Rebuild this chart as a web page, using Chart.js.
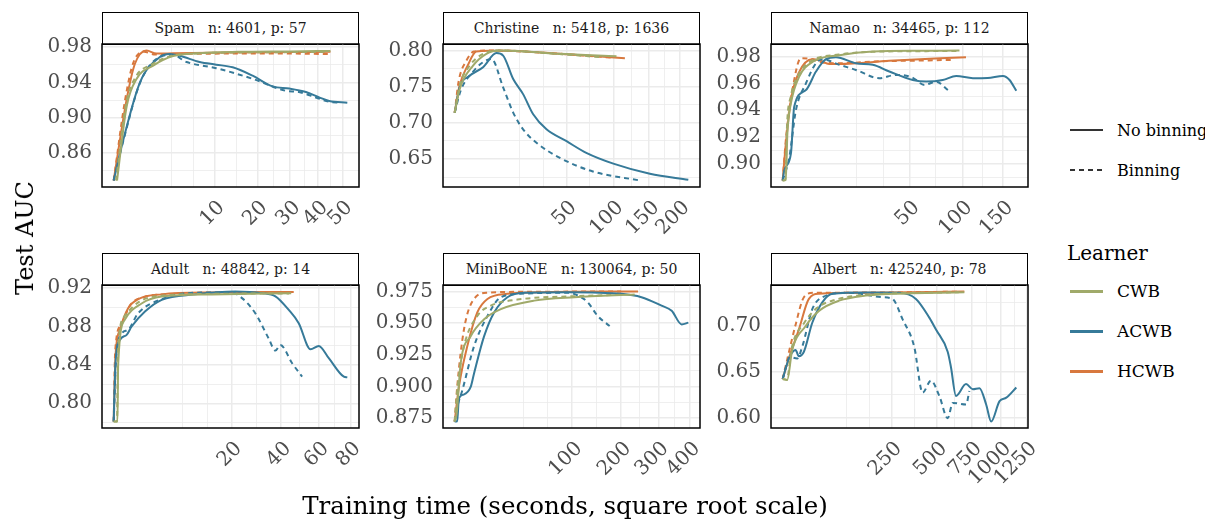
<!DOCTYPE html>
<html>
<head>
<meta charset="utf-8">
<script src="https://cdn.jsdelivr.net/npm/chart.js@4.4.0/dist/chart.umd.min.js"></script>
<style>
  body { margin: 0; background: #fff; font-family: "DejaVu Serif", serif; }
  #wrap { position: relative; width: 1205px; height: 519px; overflow: hidden; }
  .strip { position: absolute; box-sizing: border-box; border: 1.5px solid #000; background: #fff;
           font-size: 14px; color: #1a1a1a; text-align: center; white-space: pre; }
  canvas { position: absolute; }
  .txt { position: absolute; white-space: nowrap; color: #000; }
  .key { position: absolute; width: 33px; height: 2px; }
</style>
</head>
<body>
<div id="wrap"></div>
<script>
// facet info
const panelNames = ["Spam", "Christine", "Namao", "Adult", "MiniBooNE", "Albert"];
const panelN = [4601, 5418, 34465, 48842, 130064, 425240];
const panelP = [57, 1636, 112, 14, 50, 78];

// x breaks in seconds (square root scale), y breaks + labels
const xBreaks = [
  [10, 20, 30, 40, 50],
  [50, 100, 150, 200],
  [50, 100, 150],
  [20, 40, 60, 80],
  [100, 200, 300, 400],
  [250, 500, 750, 1000, 1250]
];
const yBreaks = [
  [0.86, 0.90, 0.94, 0.98],
  [0.65, 0.70, 0.75, 0.80],
  [0.90, 0.92, 0.94, 0.96, 0.98],
  [0.80, 0.84, 0.88, 0.92],
  [0.875, 0.900, 0.925, 0.950, 0.975],
  [0.60, 0.65, 0.70]
];
const yLabels = [
  ["0.86", "0.90", "0.94", "0.98"],
  ["0.65", "0.70", "0.75", "0.80"],
  ["0.90", "0.92", "0.94", "0.96", "0.98"],
  ["0.80", "0.84", "0.88", "0.92"],
  ["0.875", "0.900", "0.925", "0.950", "0.975"],
  ["0.60", "0.65", "0.70"]
];

const learners = ["CWB", "ACWB", "HCWB"];
const learnerColors = ["#A0AA6A", "#367A99", "#D8783E"];

// [seconds, test AUC]
const spamCWB = [[0.03,0.829],[0.22,0.913],[0.6,0.944],[1.64,0.959],[3.57,0.9697],[7.3,0.973],[15,0.9745],[30,0.975],[45,0.9755]];
const spamCWBbin = [[0.02,0.829],[0.2,0.915],[0.55,0.946],[1.5,0.96],[3.4,0.970],[7,0.9728],[15,0.9738],[30,0.9742],[44,0.9745]];
const spamACWB = [[0.005,0.829],[0.134,0.875],[0.77,0.94],[2.2,0.9686],[3.2,0.972],[4.4,0.970],[7.3,0.963],[10.3,0.960],[13.8,0.957],[18.7,0.9475],[24.4,0.9354],[29.7,0.933],[35.5,0.929],[40.5,0.923],[44.5,0.919],[52.2,0.917]];
const spamACWBbin = [[0.005,0.829],[0.15,0.877],[0.8,0.941],[2.2,0.9686],[3.5,0.971],[5.3,0.963],[10.3,0.956],[18.7,0.944],[28.6,0.9304],[33,0.929],[40,0.922],[44.5,0.918],[49,0.917]];
const spamHCWB = [[0.005,0.829],[0.22,0.921],[0.52,0.961],[1.16,0.976],[1.91,0.9725],[3.6,0.9728],[13.8,0.9738],[30,0.9742],[45,0.9745]];
const spamHCWBbin = [[0.005,0.829],[0.18,0.921],[0.45,0.962],[1.0,0.9745],[1.8,0.9715],[3.6,0.972],[13.8,0.9725],[30,0.9725],[44,0.972]];

const chrCWB = [[0.004,0.714],[0.14,0.7466],[1.47,0.779],[4.2,0.7954],[8.3,0.800],[20.8,0.7986],[44,0.7954],[104,0.7922]];
const chrCWBbin = [[0.004,0.714],[0.14,0.7512],[1.0,0.779],[3.4,0.7954],[8.3,0.800],[44,0.7950],[84,0.7908]];
const chrACWB = [[0.004,0.714],[0.14,0.749],[1.0,0.765],[3.39,0.777],[7.17,0.7964],[9.6,0.793],[13.9,0.7606],[18.9,0.7397],[24.8,0.7118],[33.8,0.691],[50,0.6746],[69,0.6585],[100,0.6436],[151,0.6296],[216,0.6213]];
const chrACWBbin = [[0.004,0.714],[0.2,0.745],[1.4,0.77],[3.2,0.783],[5.6,0.7884],[9.6,0.749],[13.9,0.7142],[18.9,0.691],[26.9,0.6724],[44.3,0.6515],[76,0.6328],[136,0.6203]];
const chrHCWB = [[0.004,0.714],[0.14,0.752],[0.8,0.78],[2.0,0.7986],[5,0.7995],[12.3,0.7995],[25,0.798],[44,0.7954],[80,0.792],[115,0.7894]];
const chrHCWBbin = [[0.004,0.714],[0.1,0.758],[0.6,0.785],[1.6,0.7985],[5,0.800],[12,0.7995],[44,0.7955],[100,0.790]];

const namCWB = [[0.003,0.8875],[0.05,0.8878],[0.1,0.923],[0.26,0.945],[0.94,0.965],[2.9,0.976],[10.2,0.981],[25.4,0.9838],[60,0.9843],[96.8,0.9845]];
const namCWBbin = [[0.003,0.8875],[0.04,0.888],[0.09,0.93],[0.25,0.95],[0.9,0.967],[2.8,0.977],[10,0.9815],[25,0.9835],[60,0.984],[96,0.9842]];
const namACWB = [[0.003,0.8875],[0.02,0.895],[0.26,0.9075],[0.48,0.9425],[1.8,0.955],[3.6,0.9688],[6.0,0.978],[9.0,0.9795],[16.9,0.975],[25.4,0.9738],[35.5,0.9688],[52.7,0.9625],[64,0.9613],[79.5,0.9625],[93.3,0.9655],[112,0.9638],[130,0.964],[150,0.9655],[159,0.9625],[168.6,0.9545]];
const namACWBbin = [[0.003,0.8875],[0.18,0.905],[0.62,0.94],[1.8,0.96],[3.6,0.975],[5.1,0.978],[10.2,0.9738],[16.9,0.970],[29.2,0.9638],[40,0.9663],[52,0.9645],[62.5,0.9588],[73,0.9613],[84.6,0.955]];
const namHCWB = [[0.003,0.8875],[0.053,0.915],[0.26,0.9475],[0.9,0.968],[2.9,0.978],[4.5,0.977],[6.9,0.9745],[10.2,0.9745],[35.5,0.9768],[104,0.9795]];
const namHCWBbin = [[0.003,0.8875],[0.06,0.92],[0.35,0.955],[1.13,0.9788],[2.9,0.978],[5,0.9755],[10,0.975],[30,0.9765],[60,0.977],[88,0.9775]];

const adCWB = [[0.001,0.781],[0.03,0.781],[0.04,0.84],[0.2,0.887],[1.17,0.904],[3.38,0.9112],[13.9,0.9135],[45,0.9148]];
const adCWBbin = [[0.001,0.781],[0.025,0.781],[0.035,0.85],[0.18,0.89],[1.0,0.906],[3.3,0.912],[14,0.914],[44,0.9145]];
const adACWB = [[0.001,0.781],[0.01,0.842],[0.07,0.866],[0.27,0.8713],[0.5,0.880],[1.46,0.8956],[3.38,0.9078],[9.6,0.9135],[21.2,0.9165],[31.5,0.9148],[37.4,0.9115],[43.8,0.8973],[48.9,0.8835],[55.3,0.8563],[60,0.8598],[66,0.847],[75.5,0.8277],[77.8,0.827]];
const adACWBbin = [[0.001,0.781],[0.015,0.845],[0.12,0.873],[0.33,0.8765],[0.91,0.8939],[3.38,0.9085],[9.6,0.9152],[20,0.9155],[23.6,0.9096],[28.7,0.8939],[34.3,0.8678],[37.4,0.8549],[39.7,0.8608],[45.5,0.8417],[50.7,0.8277]];
const adHCWB = [[0.001,0.781],[0.01,0.8486],[0.07,0.8765],[0.33,0.8991],[0.91,0.9085],[3.38,0.9135],[13.9,0.9155],[46.3,0.916]];
const adHCWBbin = [[0.001,0.781],[0.008,0.855],[0.1,0.882],[0.45,0.903],[1.5,0.911],[5,0.914],[14,0.9152],[45,0.9155]];

const mbCWB = [[0.001,0.8723],[0.04,0.8785],[0.29,0.9183],[1.93,0.9397],[6.4,0.9531],[15.6,0.9611],[46,0.9678],[104,0.9705],[234,0.9726]];
const mbCWBbin = [[0.001,0.8723],[0.08,0.9],[0.6,0.93],[3.8,0.9557],[9.6,0.9638],[28.8,0.9686],[104,0.9713],[201,0.9724]];
const mbACWB = [[0.001,0.8723],[0.06,0.8725],[0.15,0.8903],[0.6,0.8935],[1.93,0.8996],[2.8,0.9103],[6.4,0.9397],[11.4,0.9585],[20.3,0.9705],[35.2,0.974],[92.6,0.9745],[201,0.9732],[252,0.9705],[309,0.9638],[340,0.9598],[372,0.949],[394,0.9504]];
const mbACWBbin = [[0.001,0.8723],[0.06,0.8835],[0.46,0.8969],[2.8,0.9317],[7.9,0.9557],[15.6,0.9705],[31.9,0.9732],[92.6,0.974],[109.8,0.9718],[128,0.9665],[148,0.9557],[173.7,0.9477]];
const mbHCWB = [[0.001,0.8723],[0.15,0.8996],[1.21,0.9317],[3.8,0.9585],[7.9,0.9691],[20.3,0.9732],[60,0.9745],[243,0.975]];
const mbHCWBbin = [[0.001,0.8723],[0.06,0.8996],[0.67,0.945],[2.8,0.9691],[7.9,0.974],[40,0.9748],[200,0.975]];

const alCWB = [[0.001,0.6423],[0.47,0.6412],[1.98,0.6735],[11.1,0.6992],[27.8,0.7158],[66.8,0.7268],[145,0.7323],[253,0.7342],[692,0.7358]];
const alCWBbin = [[0.001,0.6423],[0.4,0.6415],[1.8,0.676],[10,0.703],[25,0.719],[60,0.728],[140,0.733],[250,0.7345],[650,0.736]];
const alACWB = [[0.001,0.6423],[0.85,0.664],[3.6,0.6735],[5.6,0.6669],[9.6,0.6717],[18.6,0.703],[33.2,0.725],[52,0.7342],[150,0.7355],[285,0.7353],[372.6,0.7287],[451,0.7085],[493,0.6956],[571,0.6717],[594,0.655],[630,0.6239],[705,0.6368],[758,0.6313],[812,0.6324],[868,0.6148],[911,0.5964],[986,0.6184],[1048,0.6221],[1144,0.6331]];
const alACWBbin = [[0.001,0.6423],[1.2,0.666],[4.5,0.6644],[8.2,0.6772],[18.6,0.7176],[33.2,0.7305],[92.6,0.7353],[209,0.7305],[253,0.7287],[302,0.7066],[363,0.6772],[411,0.6276],[461,0.6405],[515,0.6239],[571,0.600],[607,0.6165],[705,0.6148],[731,0.6294]];
const alHCWB = [[0.001,0.6423],[0.85,0.6644],[5.6,0.6956],[14.6,0.7287],[27.8,0.7342],[145,0.7353],[692,0.7367]];
const alHCWBbin = [[0.001,0.6423],[0.5,0.664],[3.5,0.70],[9.6,0.7305],[20,0.7353],[150,0.7355],[650,0.7365]];

// per panel: [learner solid, learner binned] in learner order
const panelSeries = [
  [spamCWB, spamCWBbin, spamACWB, spamACWBbin, spamHCWB, spamHCWBbin],
  [chrCWB, chrCWBbin, chrACWB, chrACWBbin, chrHCWB, chrHCWBbin],
  [namCWB, namCWBbin, namACWB, namACWBbin, namHCWB, namHCWBbin],
  [adCWB, adCWBbin, adACWB, adACWBbin, adHCWB, adHCWBbin],
  [mbCWB, mbCWBbin, mbACWB, mbACWBbin, mbHCWB, mbHCWBbin],
  [alCWB, alCWBbin, alACWB, alACWBbin, alHCWB, alHCWBbin]
];

// layout
const colLeft = [102, 443, 771];
const panelW = 257;
const stripTop = [12, 253];
const plotTop = [44, 285];
const plotH = 143;
const AXW = 100, AXH = 80, PADT = 16, PADR = 14;

Chart.defaults.font.family = "'DejaVu Serif', serif";

const wrap = document.getElementById("wrap");

// ggplot style breaks: majors plus minor lines halfway between them
function ggTicks(major, labels, lo, hi) {
  const b = major.slice();
  const bd = b[1] - b[0];
  if (lo < b[0]) b.unshift(b[0] - bd);
  if (hi > b[b.length - 1]) b.push(b[b.length - 1] + bd);
  const out = [];
  for (let i = 0; i < b.length; i++) {
    const k = major.indexOf(b[i]);
    out.push({ value: b[i], sub: k < 0, lab: k < 0 ? "" : labels[k] });
    if (i < b.length - 1) out.push({ value: (b[i] + b[i + 1]) / 2, sub: true, lab: "" });
  }
  return out.filter(t => t.value >= lo && t.value <= hi);
}

function expand(lo, hi) {
  const r = hi - lo;
  return [lo - 0.05 * r, hi + 0.05 * r];
}

const frame = {
  id: "frame",
  afterDraw(chart) {
    const a = chart.chartArea, ctx = chart.ctx;
    ctx.save();
    ctx.strokeStyle = "#000";
    ctx.lineWidth = 1.5;
    ctx.strokeRect(a.left, a.top, a.right - a.left, a.bottom - a.top);
    ctx.restore();
  }
};

panelNames.forEach((name, i) => {
  const col = i % 3, row = Math.floor(i / 3);
  const left = colLeft[col];

  const strip = document.createElement("div");
  strip.className = "strip";
  strip.style.left = left + "px";
  strip.style.top = stripTop[row] + "px";
  strip.style.width = panelW + "px";
  strip.style.height = (plotTop[row] - stripTop[row] + 1) + "px";
  strip.style.lineHeight = (plotTop[row] - stripTop[row] - 2) + "px";
  strip.textContent = name + "   n: " + panelN[i] + ", p: " + panelP[i];
  wrap.appendChild(strip);

  const cv = document.createElement("canvas");
  cv.width = AXW + panelW + PADR;
  cv.height = PADT + plotH + AXH;
  cv.style.left = (left - AXW) + "px";
  cv.style.top = (plotTop[row] - PADT) + "px";
  wrap.appendChild(cv);

  const series = panelSeries[i];
  const allX = [], allY = [];
  series.forEach(s => s.forEach(([t, v]) => { allX.push(Math.sqrt(t)); allY.push(v); }));
  const [x0, x1] = expand(Math.min(...allX), Math.max(...allX));
  const [y0, y1] = expand(Math.min(...allY), Math.max(...allY));

  const xTicks = ggTicks(xBreaks[i].map(Math.sqrt), xBreaks[i].map(String), x0, x1);
  const yTicks = ggTicks(yBreaks[i], yLabels[i], y0, y1);

  const datasets = series.map((s, k) => ({
    label: learners[Math.floor(k / 2)] + (k % 2 ? " binning" : ""),
    data: s.map(([t, v]) => ({ x: Math.sqrt(t), y: v })),
    borderColor: learnerColors[Math.floor(k / 2)],
    borderWidth: 2,
    borderDash: k % 2 ? [5, 4] : [],
    pointRadius: 0,
    cubicInterpolationMode: "monotone",
    fill: false
  }));

  const gridOpts = {
    color: "#ebebeb",
    lineWidth: c => (c.tick && c.tick.sub ? 0.8 : 1.5),
    drawTicks: false
  };

  new Chart(cv, {
    type: "line",
    data: { datasets },
    plugins: [frame],
    options: {
      responsive: false,
      animation: false,
      devicePixelRatio: 1,
      layout: { padding: { top: PADT, right: PADR, left: 0, bottom: 0 } },
      plugins: { legend: { display: false }, tooltip: { enabled: false } },
      scales: {
        x: {
          type: "linear",
          min: x0,
          max: x1,
          afterFit: s => { s.height = AXH; s.paddingLeft = 0; s.paddingRight = 0; },
          afterBuildTicks: s => { s.ticks = xTicks.map(t => ({ ...t })); },
          grid: gridOpts,
          border: { display: false },
          ticks: {
            autoSkip: false,
            minRotation: 45,
            maxRotation: 45,
            padding: 9,
            labelOffset: 7,
            color: "#4d4d4d",
            font: { size: 20 },
            callback: (v, idx, ticks) => ticks[idx].lab
          }
        },
        y: {
          type: "linear",
          min: y0,
          max: y1,
          afterFit: s => { s.width = AXW; s.paddingTop = 0; s.paddingBottom = 0; },
          afterBuildTicks: s => { s.ticks = yTicks.map(t => ({ ...t })); },
          grid: gridOpts,
          border: { display: false },
          ticks: {
            autoSkip: false,
            padding: 10,
            color: "#4d4d4d",
            font: { size: 20 },
            callback: (v, idx, ticks) => ticks[idx].lab
          }
        }
      }
    }
  });
});

// axis titles
function addText(txt, x, y, size, extra) {
  const d = document.createElement("div");
  d.className = "txt";
  d.textContent = txt;
  d.style.fontSize = size + "px";
  d.style.left = x + "px";
  d.style.top = y + "px";
  if (extra) Object.assign(d.style, extra);
  wrap.appendChild(d);
  return d;
}
addText("Training time (seconds, square root scale)", 565, 505, 24.5, { transform: "translate(-50%, -50%)" });
addText("Test AUC", 25, 238, 24, { transform: "translate(-50%, -50%) rotate(-90deg)" });

// legends
const lineTypes = ["No binning", "Binning"];
const lineTypeY = [130, 170];
lineTypes.forEach((lt, k) => {
  const key = document.createElement("div");
  key.className = "key";
  key.style.left = "1070px";
  key.style.top = (lineTypeY[k] - 1) + "px";
  key.style.background = k ? "repeating-linear-gradient(90deg, #333 0 5px, transparent 5px 9px)" : "#333";
  wrap.appendChild(key);
  addText(lt, 1117, lineTypeY[k], 16, { transform: "translateY(-50%)" });
});
addText("Learner", 1067, 253, 20, { transform: "translateY(-50%)" });
const learnerY = [291, 331, 371];
learners.forEach((l, k) => {
  const key = document.createElement("div");
  key.className = "key";
  key.style.left = "1070px";
  key.style.top = (learnerY[k] - 1) + "px";
  key.style.height = "2.5px";
  key.style.background = learnerColors[k];
  wrap.appendChild(key);
  addText(l, 1117, learnerY[k], 17, { transform: "translateY(-50%)" });
});
</script>
</body>
</html>
